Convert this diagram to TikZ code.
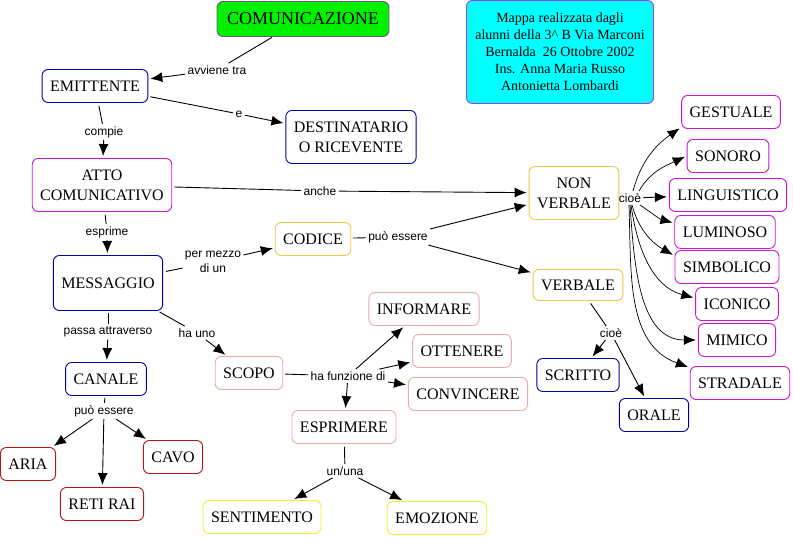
\documentclass[tikz,border=0pt]{standalone}
\usepackage{fontspec}
\setmainfont{Liberation Serif}
\setsansfont{Liberation Sans}
\usetikzlibrary{arrows.meta}
\definecolor{bordoblu}{RGB}{0,0,160}
\definecolor{bordoviola}{RGB}{205,20,205}
\definecolor{bordooro}{RGB}{235,200,70}
\definecolor{bordorosa}{RGB}{235,170,170}
\definecolor{bordorosso}{RGB}{180,20,20}
\definecolor{bordogiallo}{RGB}{240,240,40}
\definecolor{bordoverde}{RGB}{120,80,120}
\definecolor{fondoverde}{RGB}{0,240,0}
\definecolor{bordociano}{RGB}{160,60,220}
\definecolor{fondociano}{RGB}{0,255,255}
\tikzset{font=\fontsize{16}{20}\selectfont}
\tikzset{concetto/.style={draw,rounded corners=6pt,fill=white,align=center,inner xsep=8pt,inner ysep=0pt,minimum height=33pt}}
\tikzset{blu/.style={concetto,draw=bordoblu},viola/.style={concetto,draw=bordoviola},
  oro/.style={concetto,draw=bordooro},rosa/.style={concetto,draw=bordorosa},
  rosso/.style={concetto,draw=bordorosso},giallo/.style={concetto,draw=bordogiallo}}
\tikzset{legame/.style={font=\sffamily\fontsize{12}{15}\selectfont,inner sep=2pt,align=center}}
\tikzset{freccia/.style={-{Latex[length=12pt,width=10pt]},shorten >=2pt}}

\begin{document}
\begin{tikzpicture}[x=1pt,y=1pt,line width=0.9pt]
\useasboundingbox (0,0) rectangle (793,538);
\node[concetto,draw=bordoverde,fill=fondoverde,font=\fontsize{18}{22}\selectfont,inner xsep=10pt,minimum height=35pt] (comunic) at (303,519) {COMUNICAZIONE};
\node[concetto,draw=bordociano,fill=fondociano,font=\fontsize{14}{17}\selectfont,minimum width=187pt,minimum height=103pt] (mappa) at (560,486)
  {Mappa realizzata dagli\\alunni della 3\textasciicircum\ B Via Marconi\\Bernalda\ \ 26 Ottobre 2002\\Ins. Anna Maria Russo\\Antonietta Lombardi};
\node[blu] (emitt) at (95,452) {EMITTENTE};
\node[blu,minimum height=53pt] (destin) at (351,401) {DESTINATARIO\\O RICEVENTE};
\node[viola,minimum height=53pt] (atto) at (102,353) {ATTO\\COMUNICATIVO};
\node[oro] (codice) at (313,299) {CODICE};
\node[oro,minimum height=53pt] (nonverb) at (574,345) {NON\\VERBALE};
\node[oro,minimum height=31pt] (verb) at (578,253) {VERBALE};
\node[blu,minimum height=55pt] (messag) at (108,255) {MESSAGGIO};
\node[blu] (canale) at (106,159) {CANALE};
\node[rosa] (scopo) at (249,165) {SCOPO};
\node[rosa] (inform) at (424,229) {INFORMARE};
\node[rosa] (otten) at (462,187) {OTTENERE};
\node[rosa] (convin) at (468,144) {CONVINCERE};
\node[rosa] (esprim) at (344,111) {ESPRIMERE};
\node[giallo] (sentim) at (262,21) {SENTIMENTO};
\node[giallo] (emoz) at (437,20) {EMOZIONE};
\node[rosso] (aria) at (28,74) {ARIA};
\node[rosso] (reti) at (102,34) {RETI RAI};
\node[rosso] (cavo) at (173,81) {CAVO};
\node[blu] (scritto) at (578,163) {SCRITTO};
\node[blu] (orale) at (654,123) {ORALE};
\node[viola] (gest) at (731,426) {GESTUALE};
\node[viola] (sonoro) at (728,382) {SONORO};
\node[viola] (lingu) at (728,343) {LINGUISTICO};
\node[viola] (lumin) at (725,306) {LUMINOSO};
\node[viola] (simbol) at (727,271) {SIMBOLICO};
\node[viola] (iconic) at (737,234) {ICONICO};
\node[viola] (mimic) at (737,198) {MIMICO};
\node[viola] (strad) at (740,155) {STRADALE};
\node[legame] (avviene) at (217,468) {avviene tra};
\node[legame] (e) at (239,424) {e};
\node[legame] (compie) at (104,406) {compie};
\node[legame] (anche) at (320,347) {anche};
\node[legame] (esprime) at (107,306) {esprime};
\node[legame] (permezzo) at (213,276) {per mezzo\\di un};
\node[legame] (puocod) at (398,301) {può essere};
\node[legame] (passa) at (108,206) {passa attraverso};
\node[legame] (hauno) at (197,205) {ha uno};
\node[legame] (puocan) at (104,127) {può essere};
\node[legame] (hafunz) at (348,162) {ha funzione di};
\node[legame] (ununa) at (345,67) {un/una};
\node[legame] (cioenv) at (630,340) {cioè};
\node[legame] (cioev) at (611,205) {cioè};
\draw[shorten <=1pt] (comunic) -- (avviene);
\draw[freccia] (avviene) -- (emitt);
\draw[shorten <=2pt] (emitt) -- (e);
\draw[freccia] (e) -- (destin);
\draw[shorten <=3pt] (emitt) -- (compie);
\draw[freccia] (compie) -- (atto);
\draw[shorten <=2pt] (atto) -- (anche);
\draw[freccia] (anche) -- (nonverb);
\draw[shorten <=3pt] (atto) -- (esprime);
\draw[freccia] (esprime) -- (messag);
\draw[shorten <=3pt] (messag) -- (permezzo);
\draw[freccia] (permezzo) -- (codice);
\draw[shorten <=2pt] (codice) -- (puocod);
\draw[freccia] (puocod) -- (nonverb);
\draw[freccia] (puocod) -- (verb);
\draw[shorten <=2pt] (messag) -- (passa);
\draw[freccia] (passa) -- (canale);
\draw[shorten <=2pt] (messag) -- (hauno);
\draw[freccia] (hauno) -- (scopo);
\draw[shorten <=2pt] (canale) -- (puocan);
\draw[freccia] (puocan) -- (aria);
\draw[freccia] (puocan) -- (reti);
\draw[freccia] (puocan) -- (cavo);
\draw[shorten <=2pt] (scopo) -- (hafunz);
\draw[freccia] (hafunz) -- (inform);
\draw[freccia] (hafunz) -- (otten);
\draw[freccia] (hafunz) -- (convin);
\draw[freccia] (hafunz) -- (esprim);
\draw[shorten <=3pt] (esprim) -- (ununa);
\draw[freccia] (ununa) -- (sentim);
\draw[freccia] (ununa) -- (emoz);
\draw[shorten <=3pt] (verb) -- (cioev);
\draw[freccia] (cioev) -- (scritto);
\draw[freccia] (cioev) -- (orale);
\draw[freccia,line width=0.7pt] ([xshift=3pt]cioenv.north) to[out=75,in=215] (gest.197);
\draw[freccia,line width=0.7pt] ([xshift=9pt]cioenv.north) to[out=60,in=205] (sonoro.west);
\draw[freccia] (cioenv) -- (lingu);
\draw[freccia,line width=0.7pt] ([xshift=10pt]cioenv.south) to[out=-35,in=165] (lumin.170);
\draw[freccia,line width=0.7pt] ([xshift=2pt]cioenv.south) to[out=-75,in=150] (simbol.168);
\draw[freccia,line width=0.7pt] ([xshift=1pt]cioenv.south) to[out=-82,in=165] (iconic.172);
\draw[freccia,line width=0.7pt] (cioenv.south) to[out=-86,in=180] (mimic.west);
\draw[freccia,line width=0.7pt] ([xshift=-1pt]cioenv.south) to[out=-88,in=160] (strad.163);
\end{tikzpicture}
\end{document}
